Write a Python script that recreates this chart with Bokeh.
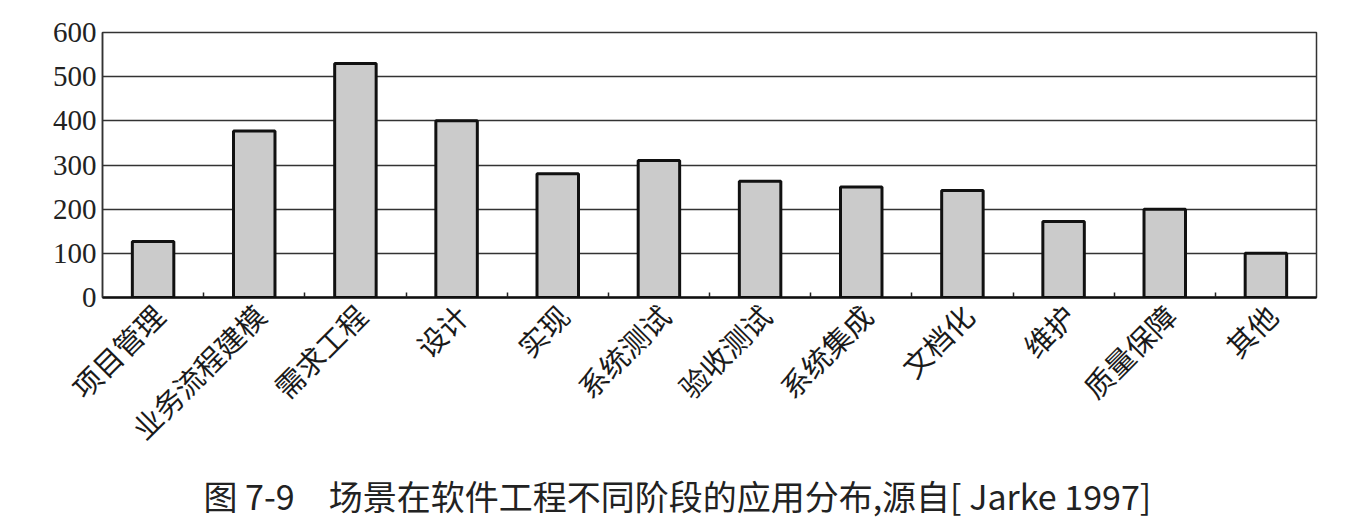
import math
from bokeh.plotting import figure
from bokeh.models import FixedTicker, Range1d, Title, ColumnDataSource
from bokeh.embed import file_html
from bokeh.resources import INLINE

categories = ["项目管理", "业务流程建模", "需求工程", "设计", "实现", "系统测试",
              "验收测试", "系统集成", "文档化", "维护", "质量保障", "其他"]
values = [127, 377, 530, 400, 280, 310, 263, 250, 242, 172, 200, 100]
y_ticks = [0, 100, 200, 300, 400, 500, 600]
caption = "图 7-9\u3000场景在软件工程不同阶段的应用分布,源自[ Jarke 1997]"

n = len(categories)
centers = [i + 0.5 for i in range(n)]
bounds = [float(i) for i in range(1, n)]
label_shift = 0.05  # visual nudge of rotated labels toward the right
label_pos = [c + label_shift for c in centers]

src = ColumnDataSource(dict(x=centers, top=values, name=categories))

p = figure(width=1338, height=522, output_backend="svg", toolbar_location=None,
           x_range=Range1d(0, n), y_range=Range1d(0, 600),
           min_border_left=102, min_border_right=22, min_border_top=32,
           min_border_bottom=225)

p.vbar(x="x", top="top", width=0.41, source=src, fill_color="#cbcbcb",
       line_color="#111111", line_width=3)

# x axis
xa = p.xaxis[0]
xa.ticker = FixedTicker(ticks=label_pos, minor_ticks=bounds)
xa.major_label_overrides = {c: name for c, name in zip(label_pos, categories)}
xa.major_label_orientation = math.pi / 4
xa.major_tick_in = 0
xa.major_tick_out = 0
xa.minor_tick_in = 5
xa.minor_tick_out = 0
xa.minor_tick_line_color = "#222222"
xa.minor_tick_line_width = 1.5
xa.axis_line_color = "#111111"
xa.axis_line_width = 2.5
xa.major_label_text_font = "Noto Sans CJK SC"
xa.major_label_text_font_size = "29px"
xa.major_label_text_color = "#1a1a1a"
xa.major_label_standoff = 12

# y axis
ya = p.yaxis[0]
ya.ticker = FixedTicker(ticks=y_ticks)
ya.major_tick_in = 0
ya.major_tick_out = 0
ya.minor_tick_line_color = None
ya.axis_line_color = "#333333"
ya.axis_line_width = 1.5
ya.major_label_text_font = "Liberation Serif"
ya.major_label_text_font_size = "29px"
ya.major_label_text_color = "#222222"
ya.major_label_standoff = 6

p.xgrid.grid_line_color = None
p.ygrid.ticker = FixedTicker(ticks=y_ticks)
p.ygrid.grid_line_color = "#333333"
p.ygrid.grid_line_width = 1.5

p.outline_line_color = "#333333"
p.outline_line_width = 1.5
p.background_fill_color = "white"
p.border_fill_color = "white"

t = Title(text=caption, align="left", offset=101, text_font="Noto Sans CJK SC",
          text_font_size="34px", text_font_style="normal", text_color="#222222",
          standoff=6)
p.add_layout(t, "below")

open("out.html", "w").write(file_html(p, INLINE))
